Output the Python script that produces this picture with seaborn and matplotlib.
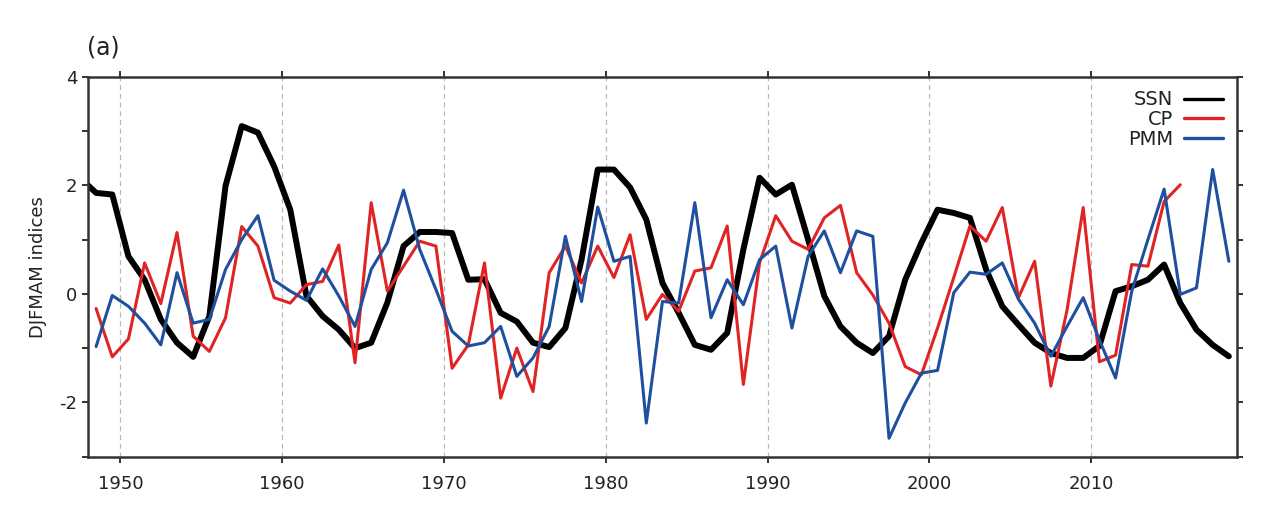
import matplotlib
matplotlib.use("Agg")

import matplotlib.pyplot as plt
import seaborn as sns
import numpy as np

# DJFMAM indices, plotted at mid-year
ssn_years = np.arange(1947, 2019)
ssn = [2.14, 1.86, 1.83, 0.69, 0.26, -0.47, -0.90, -1.16, -0.41, 1.99,
       3.09, 2.97, 2.35, 1.55, -0.04, -0.41, -0.66, -1.00, -0.90, -0.16,
       0.88, 1.14, 1.14, 1.12, 0.26, 0.27, -0.35, -0.51, -0.90, -0.98,
       -0.63, 0.63, 2.29, 2.29, 1.96, 1.37, 0.20, -0.35, -0.94, -1.03,
       -0.72, 0.82, 2.14, 1.83, 2.01, 1.00, -0.04, -0.60, -0.90, -1.09,
       -0.78, 0.26, 0.94, 1.55, 1.49, 1.40, 0.45, -0.23, -0.57, -0.90,
       -1.09, -1.18, -1.18, -0.96, 0.05, 0.14, 0.26, 0.54, -0.17, -0.66,
       -0.94, -1.15]

pmm_years = np.arange(1948, 2019)
pmm = [-0.97, -0.03, -0.23, -0.54, -0.94, 0.39, -0.54, -0.47, 0.45, 1.00,
       1.44, 0.25, 0.05, -0.12, 0.46, -0.04, -0.60, 0.45, 0.94, 1.91,
       0.82, 0.08, -0.69, -0.96, -0.90, -0.60, -1.52, -1.18, -0.60, 1.06,
       -0.14, 1.60, 0.60, 0.69, -2.38, -0.14, -0.17, 1.68, -0.44, 0.26,
       -0.20, 0.63, 0.88, -0.63, 0.69, 1.16, 0.39, 1.16, 1.06, -2.66,
       -2.01, -1.46, -1.41, 0.02, 0.40, 0.36, 0.57, -0.10, -0.54, -1.15,
       -0.60, -0.07, -0.85, -1.55, 0.05, 1.00, 1.93, -0.01, 0.11, 2.29,
       0.60]

cp_years = np.arange(1948, 2016)
cp = [-0.27, -1.16, -0.83, 0.57, -0.18, 1.13, -0.78, -1.06, -0.44, 1.24,
      0.88, -0.07, -0.17, 0.17, 0.23, 0.90, -1.27, 1.68, 0.05, 0.51,
      0.97, 0.88, -1.37, -0.94, 0.57, -1.92, -1.00, -1.80, 0.39, 0.88,
      0.20, 0.88, 0.30, 1.09, -0.47, -0.01, -0.32, 0.42, 0.48, 1.25,
      -1.67, 0.57, 1.44, 0.97, 0.82, 1.40, 1.63, 0.39, -0.02, -0.54,
      -1.34, -1.49, -0.63, 0.30, 1.25, 0.97, 1.59, -0.07, 0.60, -1.70,
      -0.30, 1.59, -1.25, -1.13, 0.54, 0.51, 1.70, 2.01]

sns.set_style("ticks")
plt.rcParams["font.family"] = ["DejaVu Sans"]
plt.rcParams["axes.unicode_minus"] = False

fig = plt.figure(figsize=(12.68, 5.32), dpi=100)
ax = fig.add_axes([0.0694, 0.1415, 0.9061, 0.7143])

ax.set_xlim(1948, 2019)
ax.set_ylim(-3, 4)

# dashed decade grid
for yr in range(1950, 2020, 10):
    ax.axvline(yr, color="#b8b8b8", lw=0.9, ls=(0, (4, 3)), zorder=0)

sns.lineplot(x=ssn_years + 0.5, y=ssn, color="black", lw=4.3, label="SSN", ax=ax)
sns.lineplot(x=cp_years + 0.5, y=cp, color="#e02424", lw=2.2, label="CP", ax=ax)
sns.lineplot(x=pmm_years + 0.5, y=pmm, color="#1f4f9f", lw=2.2, label="PMM", ax=ax)

ax.set_xticks(range(1950, 2020, 10))
ax.set_yticks(range(-3, 5))
ax.set_yticklabels(["" if v % 2 else str(v) for v in range(-3, 5)])
ax.tick_params(axis="both", direction="out", length=4, width=1.3,
               labelsize=13, colors="#222222", top=True, right=True,
               labeltop=False, labelright=False)
ax.tick_params(axis="x", pad=9)
for s in ax.spines.values():
    s.set_linewidth(1.8)
    s.set_color("#333333")

ax.set_ylabel("DJFMAM indices", fontsize=13, color="#222222", labelpad=9)
ax.set_xlabel("")
ax.text(-0.001, 1.045, "(a)", transform=ax.transAxes, fontsize=17,
        color="#222222", ha="left", va="bottom")

leg = ax.legend(loc="upper right", frameon=False, markerfirst=False, fontsize=14,
                handlelength=2.0, labelspacing=0.05, borderaxespad=0.3,
                handletextpad=0.6)
for h in leg.get_lines():
    h.set_linewidth(2.4)
for t in leg.get_texts():
    t.set_color("#222222")

plt.savefig("out.png", dpi=100)
plt.close()
